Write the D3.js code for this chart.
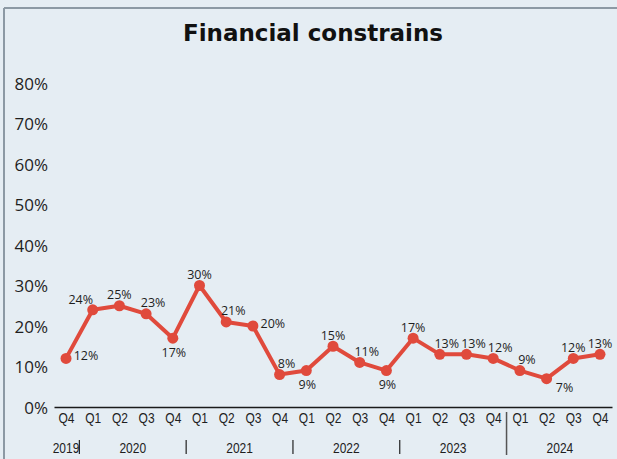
<!DOCTYPE html>
<html>
<head>
<meta charset="utf-8">
<script src="https://cdn.jsdelivr.net/npm/d3@7"></script>
<style>
  html, body { margin: 0; padding: 0; background: #e5edf3; }
  svg { display: block; }
</style>
</head>
<body>
<svg id="chart" width="617" height="459"></svg>
<script>
// Quarterly share of firms reporting financial constraints
const quarters = ["Q4","Q1","Q2","Q3","Q4","Q1","Q2","Q3","Q4","Q1","Q2","Q3","Q4","Q1","Q2","Q3","Q4","Q1","Q2","Q3","Q4"];
const quarterYears = ["2019","2020","2020","2020","2020","2021","2021","2021","2021","2022","2022","2022","2022","2023","2023","2023","2023","2024","2024","2024","2024"];
const values = [12,24,25,23,17,30,21,20,8,9,15,11,9,17,13,13,12,9,7,12,13];
const years = ["2019","2020","2021","2022","2023","2024"];
const yTicks = [0,10,20,30,40,50,60,70,80];

// where each value label sits relative to its point
const labelSide = ["r","ul","u","ur","d","u","ur","r","ur","d","u","ur","d","u","ur","ur","ur","ur","dr","u","u"];
const sideOffset = {
  r:  [20, -3],
  ul: [-12, -10],
  u:  [0, -11],
  ur: [7, -11],
  d:  [1, 14],
  dr: [18, 9]
};

const W = 617, H = 459;
const svg = d3.select("#chart");
const red = "#e04a3c";
const narrowFont = "'Liberation Sans Narrow', 'Liberation Sans', Arial, sans-serif";
const squeeze = "scale(0.8,1)";

// background and frame
svg.append("rect").attr("width", W).attr("height", H).attr("fill", "#e5edf3");
svg.append("line").attr("x1", 4).attr("x2", W).attr("y1", 8).attr("y2", 8)
  .attr("stroke", "#8c99a4").attr("stroke-width", 2);
svg.append("line").attr("x1", 4).attr("x2", 4).attr("y1", 8).attr("y2", H)
  .attr("stroke", "#8c99a4").attr("stroke-width", 2);

// title
svg.append("text")
  .attr("x", 313).attr("y", 41)
  .attr("text-anchor", "middle")
  .attr("font-family", "DejaVu Sans")
  .attr("font-weight", "bold")
  .attr("font-size", 23)
  .attr("fill", "#111")
  .text("Financial constrains");

const keys = quarters.map((q, i) => quarterYears[i] + " " + q + " " + i);

const x = d3.scalePoint().domain(keys).range([54, 612]).padding(0.45);
const y = d3.scaleLinear().domain([0, 80]).range([407, 83]);

// y axis labels
const yAxis = svg.append("g")
  .attr("transform", "translate(48,0)")
  .call(d3.axisLeft(y).tickValues(yTicks).tickSize(0).tickPadding(0).tickFormat(d => d + "%"));
yAxis.select(".domain").remove();
yAxis.selectAll("text")
  .attr("font-family", "Open Sans")
  .attr("font-size", 17)
  .attr("fill", "#1e1e1e")
  .attr("dy", "0.38em");

// x axis: baseline and quarter labels
const xAxis = svg.append("g")
  .attr("transform", "translate(0,407)")
  .call(d3.axisBottom(x).tickSize(0).tickPadding(5).tickFormat((d, i) => quarters[i]));
xAxis.select(".domain").attr("stroke", "#1a1a1a").attr("stroke-width", 1.5);
xAxis.selectAll("text")
  .attr("font-family", narrowFont)
  .attr("font-size", 15)
  .attr("fill", "#1e1e1e")
  .attr("transform", squeeze);

// year labels centred under their quarters
const yearGroups = d3.groups(keys.map((k, i) => ({ k, yr: quarterYears[i] })), d => d.yr);
svg.append("g").selectAll("text")
  .data(years)
  .join("text")
  .attr("transform", yr => {
    const g = yearGroups.find(e => e[0] === yr)[1];
    const cx = (x(g[0].k) + x(g[g.length - 1].k)) / 2;
    return `translate(${cx},453) ${squeeze}`;
  })
  .attr("text-anchor", "middle")
  .attr("font-family", narrowFont)
  .attr("font-size", 15)
  .attr("fill", "#1e1e1e")
  .text(d => d);

// year separators
const step = x.step();
years.slice(1).forEach((yr, j) => {
  const g = yearGroups.find(e => e[0] === yr)[1];
  const sx = x(g[0].k) - step / 2;
  const last = j === years.length - 2;
  svg.append("line")
    .attr("x1", sx).attr("x2", sx)
    .attr("y1", last ? 412 : 440).attr("y2", last ? 455 : 454)
    .attr("stroke", last ? "#555" : "#222")
    .attr("stroke-width", last ? 1.5 : 1.2);
});

// series line and markers
const pts = values.map((v, i) => ({ x: x(keys[i]), y: y(v), v, side: labelSide[i] }));
svg.append("path")
  .datum(pts)
  .attr("fill", "none")
  .attr("stroke", red)
  .attr("stroke-width", 4)
  .attr("stroke-linejoin", "round")
  .attr("d", d3.line().x(d => d.x).y(d => d.y));

svg.append("g").selectAll("circle")
  .data(pts)
  .join("circle")
  .attr("cx", d => d.x)
  .attr("cy", d => d.y)
  .attr("r", 5.5)
  .attr("fill", red);

// value labels
svg.append("g").selectAll("text")
  .data(pts)
  .join("text")
  .attr("x", d => d.x + sideOffset[d.side][0])
  .attr("y", d => d.y + sideOffset[d.side][1])
  .attr("dy", "0.36em")
  .attr("text-anchor", "middle")
  .attr("font-family", "Open Sans")
  .attr("font-size", 12.5)
  .attr("fill", "#1e1e1e")
  .text(d => d.v + "%");
</script>
</body>
</html>
